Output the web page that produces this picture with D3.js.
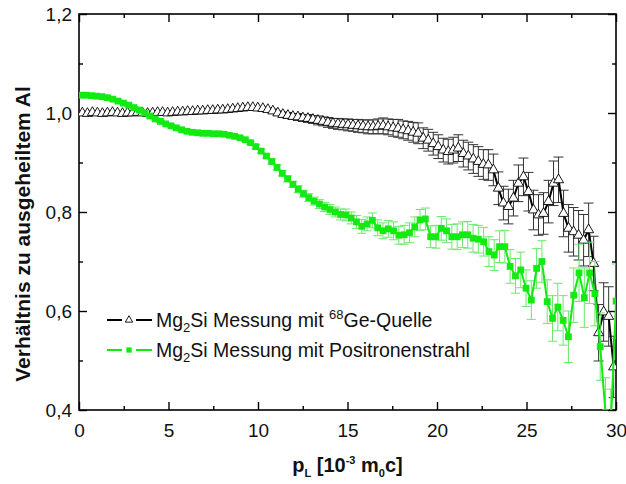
<!DOCTYPE html>
<html>
<head>
<meta charset="utf-8">
<script src="https://cdn.jsdelivr.net/npm/d3@7"></script>
<style>
  html, body { margin: 0; padding: 0; background: #fff; }
  svg { display: block; font-family: "Liberation Sans", Arial, sans-serif; }
</style>
</head>
<body>
<svg id="chart" width="626" height="484"></svg>
<script>
// Momentum grids (p_L in 10^-3 m0c) of the two measurements
const geStart = 0.19, geStep = 0.28;
const beamStart = 0.11, beamStep = 0.296;

// Mg2Si measured with the 68Ge source, ratio to annealed Al
const geRatio = [
  1.000, 0.999, 1.001, 1.000, 0.999, 1.000, 1.001, 1.000, 0.999, 1.000,
  1.000, 1.001, 1.000, 0.999, 1.000, 1.001, 1.001, 1.000, 1.001, 1.002,
  1.002, 1.003, 1.003, 1.004, 1.004, 1.005, 1.005, 1.006, 1.006, 1.007,
  1.008, 1.009, 1.010, 1.011, 1.011, 1.010, 1.009, 1.007, 1.004, 1.000,
  0.997, 0.995, 0.993, 0.992, 0.990, 0.989, 0.987, 0.985, 0.983, 0.981,
  0.979, 0.978, 0.977, 0.976, 0.975, 0.974, 0.973, 0.972, 0.972, 0.973,
  0.974, 0.972, 0.970, 0.969, 0.966, 0.964, 0.961, 0.959, 0.949, 0.945,
  0.938, 0.932, 0.925, 0.922, 0.925, 0.929, 0.918, 0.913, 0.907, 0.902,
  0.896, 0.895, 0.885, 0.848, 0.818, 0.811, 0.828, 0.858, 0.871, 0.841,
  0.804, 0.794, 0.797, 0.821, 0.858, 0.865, 0.797, 0.767, 0.760, 0.753,
  0.743, 0.764, 0.696, 0.556, 0.598, 0.589, 0.487
];
const geError = [
  0.003, 0.003, 0.003, 0.003, 0.003, 0.003, 0.003, 0.003, 0.003, 0.003,
  0.003, 0.003, 0.003, 0.003, 0.003, 0.003, 0.003, 0.003, 0.003, 0.003,
  0.003, 0.003, 0.003, 0.003, 0.003, 0.003, 0.003, 0.003, 0.003, 0.003,
  0.003, 0.003, 0.003, 0.003, 0.003, 0.003, 0.003, 0.003, 0.004, 0.004,
  0.005, 0.006, 0.006, 0.007, 0.007, 0.008, 0.008, 0.009, 0.009, 0.010,
  0.010, 0.011, 0.011, 0.012, 0.012, 0.013, 0.013, 0.014, 0.014, 0.015,
  0.016, 0.016, 0.017, 0.018, 0.018, 0.019, 0.020, 0.021, 0.021, 0.022,
  0.023, 0.024, 0.024, 0.025, 0.026, 0.027, 0.027, 0.028, 0.029, 0.030,
  0.030, 0.031, 0.032, 0.033, 0.034, 0.035, 0.036, 0.037, 0.038, 0.039,
  0.040, 0.041, 0.042, 0.043, 0.045, 0.046, 0.047, 0.048, 0.049, 0.050,
  0.052, 0.054, 0.055, 0.057, 0.059, 0.060, 0.062
];

// Mg2Si measured with the positron beam, ratio to annealed Al
const beamRatio = [
  1.036, 1.036, 1.035, 1.034, 1.033, 1.031, 1.028, 1.024, 1.020, 1.016,
  1.011, 1.006, 1.000, 0.994, 0.988, 0.983, 0.978, 0.974, 0.970, 0.966,
  0.963, 0.961, 0.960, 0.959, 0.959, 0.958, 0.958, 0.957, 0.955, 0.953,
  0.950, 0.946, 0.940, 0.932, 0.923, 0.913, 0.902, 0.890, 0.878, 0.867,
  0.856, 0.846, 0.837, 0.829, 0.822, 0.816, 0.810, 0.805, 0.800, 0.795,
  0.794, 0.788, 0.780, 0.771, 0.776, 0.783, 0.768, 0.762, 0.766, 0.762,
  0.753, 0.754, 0.758, 0.770, 0.784, 0.786, 0.750, 0.750, 0.767, 0.762,
  0.750, 0.750, 0.754, 0.754, 0.747, 0.745, 0.740, 0.720, 0.713, 0.730,
  0.730, 0.690, 0.671, 0.683, 0.646, 0.622, 0.686, 0.700, 0.619, 0.585,
  0.608, 0.581, 0.548, 0.632, 0.677, 0.627, 0.677, 0.635, 0.528, 0.395,
  0.370, 0.620
];
const beamError = [
  0.002, 0.002, 0.002, 0.002, 0.002, 0.002, 0.002, 0.002, 0.002, 0.002,
  0.002, 0.002, 0.002, 0.002, 0.002, 0.002, 0.002, 0.002, 0.002, 0.002,
  0.002, 0.002, 0.002, 0.002, 0.002, 0.002, 0.002, 0.002, 0.002, 0.002,
  0.003, 0.003, 0.003, 0.004, 0.004, 0.004, 0.005, 0.005, 0.005, 0.006,
  0.006, 0.007, 0.007, 0.008, 0.008, 0.009, 0.009, 0.010, 0.010, 0.011,
  0.012, 0.012, 0.013, 0.014, 0.014, 0.015, 0.016, 0.016, 0.017, 0.018,
  0.018, 0.019, 0.020, 0.020, 0.021, 0.022, 0.022, 0.023, 0.024, 0.024,
  0.025, 0.026, 0.026, 0.027, 0.028, 0.028, 0.029, 0.030, 0.031, 0.032,
  0.033, 0.034, 0.035, 0.036, 0.037, 0.039, 0.040, 0.042, 0.044, 0.046,
  0.048, 0.050, 0.052, 0.055, 0.058, 0.060, 0.062, 0.065, 0.068, 0.070,
  0.072, 0.075
];

// Axis ticks
const xTicks = [0, 5, 10, 15, 20, 25, 30];
const xMinorTicks = [2.5, 7.5, 12.5, 17.5, 22.5, 27.5];
const yTicks = [0.4, 0.6, 0.8, 1.0, 1.2];
const yMinorTicks = [0.5, 0.7, 0.9, 1.1];

const geSeries = geRatio.map((v, i) => ({ p: geStart + i * geStep, v, e: geError[i] }));
const beamSeries = beamRatio.map((v, i) => ({ p: beamStart + i * beamStep, v, e: beamError[i] }));

const svg = d3.select("#chart");
const plot = { left: 79, right: 616, top: 14, bottom: 410 };

const x = d3.scaleLinear().domain([0, 30]).range([plot.left, plot.right]);
const y = d3.scaleLinear().domain([0.4, 1.2]).range([plot.bottom, plot.top]);

const fmtComma = d => d3.format(".1f")(d).replace(".", ",");
const GREEN = "#12ea12";
const GREEN_ERR = "#6ae86a";

svg.append("defs").append("clipPath").attr("id", "plotClip")
  .append("rect")
  .attr("x", plot.left).attr("y", plot.top)
  .attr("width", plot.right - plot.left).attr("height", plot.bottom - plot.top);

// ---- axes: all ticks point into the frame ----
function styleAxis(g) {
  g.select(".domain").remove();
  g.selectAll(".tick line").attr("stroke", "#000").attr("stroke-width", 1.4);
}

svg.append("g").attr("transform", `translate(0,${plot.bottom})`)
  .call(d3.axisBottom(x).tickValues(xTicks).tickSize(-8).tickPadding(14).tickFormat(d3.format("d")))
  .call(styleAxis)
  .call(g => g.selectAll("text").attr("font-size", 19).attr("fill", "#111")
    .attr("font-family", "'Liberation Sans', Arial, sans-serif"));
svg.append("g").attr("transform", `translate(0,${plot.bottom})`)
  .call(d3.axisBottom(x).tickValues(xMinorTicks).tickSize(-4).tickFormat(""))
  .call(styleAxis);
svg.append("g").attr("transform", `translate(0,${plot.top})`)
  .call(d3.axisTop(x).tickValues(xTicks).tickSize(-8).tickFormat(""))
  .call(styleAxis);
svg.append("g").attr("transform", `translate(0,${plot.top})`)
  .call(d3.axisTop(x).tickValues(xMinorTicks).tickSize(-4).tickFormat(""))
  .call(styleAxis);

svg.append("g").attr("transform", `translate(${plot.left},0)`)
  .call(d3.axisLeft(y).tickValues(yTicks).tickSize(-8).tickPadding(7).tickFormat(fmtComma))
  .call(styleAxis)
  .call(g => g.selectAll("text").attr("font-size", 19).attr("fill", "#111")
    .attr("font-family", "'Liberation Sans', Arial, sans-serif"));
svg.append("g").attr("transform", `translate(${plot.left},0)`)
  .call(d3.axisLeft(y).tickValues(yMinorTicks).tickSize(-4).tickFormat(""))
  .call(styleAxis);
svg.append("g").attr("transform", `translate(${plot.right},0)`)
  .call(d3.axisRight(y).tickValues(yTicks).tickSize(-8).tickFormat(""))
  .call(styleAxis);
svg.append("g").attr("transform", `translate(${plot.right},0)`)
  .call(d3.axisRight(y).tickValues(yMinorTicks).tickSize(-4).tickFormat(""))
  .call(styleAxis);

// frame
svg.append("rect")
  .attr("x", plot.left).attr("y", plot.top)
  .attr("width", plot.right - plot.left).attr("height", plot.bottom - plot.top)
  .attr("fill", "none").attr("stroke", "#000").attr("stroke-width", 1.6);

// ---- data ----
const data = svg.append("g").attr("clip-path", "url(#plotClip)");

function drawSeries(series, opt) {
  const g = data.append("g");
  // error bars
  const eb = g.append("g").attr("stroke", opt.errColor).attr("stroke-width", 1).attr("fill", "none");
  series.forEach(d => {
    const cx = x(d.p), y1 = y(d.v + d.e), y2 = y(d.v - d.e);
    eb.append("line").attr("x1", cx).attr("x2", cx).attr("y1", y1).attr("y2", y2);
    eb.append("line").attr("x1", cx - opt.cap).attr("x2", cx + opt.cap).attr("y1", y1).attr("y2", y1);
    eb.append("line").attr("x1", cx - opt.cap).attr("x2", cx + opt.cap).attr("y1", y2).attr("y2", y2);
  });
  // connecting line
  g.append("path").datum(series)
    .attr("fill", "none").attr("stroke", opt.lineColor).attr("stroke-width", opt.lineWidth)
    .attr("d", d3.line().x(d => x(d.p)).y(d => y(d.v)));
  // markers
  g.append("g").selectAll("path").data(series).join("path")
    .attr("transform", d => `translate(${x(d.p)},${y(d.v)})`)
    .attr("d", d3.symbol().type(opt.symbol).size(opt.size))
    .attr("fill", opt.fill).attr("stroke", opt.stroke).attr("stroke-width", opt.strokeWidth);
}

drawSeries(geSeries, {
  errColor: "#333", cap: 5, lineColor: "#000", lineWidth: 2,
  symbol: d3.symbolTriangle, size: 44, fill: "#fff", stroke: "#000", strokeWidth: 0.9
});
drawSeries(beamSeries, {
  errColor: GREEN_ERR, cap: 4.5, lineColor: GREEN, lineWidth: 2,
  symbol: d3.symbolSquare, size: 46, fill: GREEN, stroke: "none", strokeWidth: 0
});

// ---- legend ----
const legend = svg.append("g");
const legendRows = [
  { y: 320, color: "#000", symbol: d3.symbolTriangle, size: 24, fill: "#fff", stroke: "#000",
    label: [["Mg", 0], ["2", 1], ["Si Messung mit ", -1], ["68", -2], ["Ge-Quelle", 2]] },
  { y: 350, color: GREEN, symbol: d3.symbolSquare, size: 28, fill: GREEN, stroke: "none",
    label: [["Mg", 0], ["2", 1], ["Si Messung mit Positronenstrahl", -1]] }
];
legendRows.forEach(r => {
  legend.append("line").attr("x1", 107).attr("x2", 152).attr("y1", r.y).attr("y2", r.y)
    .attr("stroke", r.color).attr("stroke-width", 2);
  legend.append("rect").attr("x", 122).attr("y", r.y - 5).attr("width", 14).attr("height", 10).attr("fill", "#fff");
  legend.append("path").attr("transform", `translate(129,${r.y})`)
    .attr("d", d3.symbol().type(r.symbol).size(r.size))
    .attr("fill", r.fill).attr("stroke", r.stroke).attr("stroke-width", 0.9);
  const t = legend.append("text").attr("x", 156).attr("y", r.y + 7)
    .attr("font-size", 19.5).attr("fill", "#111");
  // 0 = normal, 1 = subscript, 2 = back from superscript, -1 = back from subscript, -2 = superscript
  r.label.forEach(([s, kind]) => {
    const ts = t.append("tspan").text(s);
    if (kind === 1) ts.attr("dy", 5).attr("font-size", 13);
    if (kind === -1) ts.attr("dy", -5);
    if (kind === -2) ts.attr("dy", -8).attr("font-size", 13);
    if (kind === 2) ts.attr("dy", 8);
  });
});

// ---- axis titles ----
svg.append("text")
  .attr("transform", `translate(30,${(plot.top + plot.bottom) / 2 + 22}) rotate(-90)`)
  .attr("text-anchor", "middle").attr("font-size", 21).attr("font-weight", "bold").attr("fill", "#111")
  .text("Verhältnis zu ausgeheiltem Al");

const xt = svg.append("text")
  .attr("x", (plot.left + plot.right) / 2).attr("y", 472)
  .attr("text-anchor", "middle").attr("font-size", 20).attr("font-weight", "bold").attr("fill", "#111");
xt.append("tspan").text("p");
xt.append("tspan").text("L").attr("dy", 5).attr("font-size", 11);
xt.append("tspan").text(" [10").attr("dy", -5);
xt.append("tspan").text("-3").attr("dy", -8).attr("font-size", 11);
xt.append("tspan").text(" m").attr("dy", 8);
xt.append("tspan").text("0").attr("dy", 5).attr("font-size", 11);
xt.append("tspan").text("c]").attr("dy", -5);
</script>
</body>
</html>
